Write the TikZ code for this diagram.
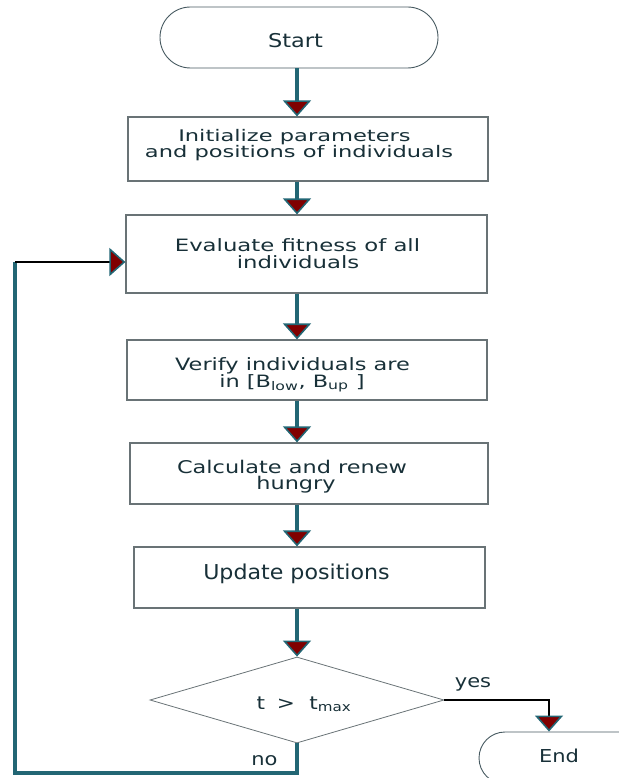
\documentclass[tikz,border=0pt]{standalone}
\usepackage{fontspec}
\usepackage{graphicx}
\setmainfont{DejaVu Sans}
\usetikzlibrary{arrows.meta,shapes.geometric,shapes.misc}
\definecolor{tealc}{RGB}{34,102,116}
\definecolor{redc}{RGB}{128,0,0}
\definecolor{txtc}{RGB}{24,48,56}
\definecolor{boxc}{RGB}{105,115,118}
\newcommand{\hs}[2]{\scalebox{#1}[1]{#2}}
\begin{document}
\begin{tikzpicture}[x=1bp,y=-1bp,
  boxst/.style={draw=boxc,line width=1.2bp,rectangle,inner sep=0pt},
  termst/.style={draw=txtc!80,line width=0.9bp,rounded rectangle,inner sep=0pt},
  lbl/.style={anchor=base,inner sep=0pt,text=txtc,font=\fontsize{#1bp}{#1bp}\selectfont},
  tip/.style={-{Triangle[width=28bp,length=16bp,line width=1.6bp,color=tealc,fill=redc]}},
  conn/.style={draw=tealc,line width=4bp,tip},
  thinconn/.style={draw=black,line width=1.2bp,tip},
  loopline/.style={draw=tealc,line width=4bp}]
\path[use as bounding box] (0,0) rectangle (619,778);
\clip (0,0) rectangle (619,778);
% shapes
\node[termst,minimum width=278bp,minimum height=61bp] (start) at (299,37.5) {};
\node[boxst,minimum width=360bp,minimum height=64bp] (b1) at (308,149) {};
\node[boxst,minimum width=361bp,minimum height=78bp] (b2) at (306.5,254) {};
\node[boxst,minimum width=360bp,minimum height=60bp] (b3) at (307,370) {};
\node[boxst,minimum width=358bp,minimum height=61bp] (b4) at (309,473.5) {};
\node[boxst,minimum width=351bp,minimum height=61bp] (b5) at (309.5,577.5) {};
\node[draw=boxc,line width=0.8bp,diamond,inner sep=0pt,minimum width=294bp,minimum height=86bp] (dec) at (297,700) {};
\node[termst,minimum width=170bp,minimum height=52bp] (stop) at (564,758) {};
% texts
\node[lbl=19] (tstart) at (295.5,47.7) {\hs{1.18}{Start}};
\node[lbl=16] (t1a) at (294.5,141.7) {\hs{1.41}{Initialize parameters}};
\node[lbl=16] (t1b) at (299,157.7) {\hs{1.41}{and positions of individuals}};
\node[lbl=17] (t2a) at (297.5,251.7) {\hs{1.34}{Evaluate fitness of all}};
\node[lbl=17] (t2b) at (298,268) {\hs{1.34}{individuals}};
\node[lbl=17] (t3a) at (292.5,370.7) {\hs{1.32}{Verify individuals are}};
\node[lbl=17] (t3b) at (292,387) {\hs{1.32}{in [B\textsubscript{low}, B\textsubscript{up} ]}};
\node[lbl=17.5] (t4a) at (292,473.3) {\hs{1.28}{Calculate and renew}};
\node[lbl=17.5] (t4b) at (296,489.5) {\hs{1.28}{hungry}};
\node[lbl=20.5] (t5) at (296.5,579) {\hs{1.08}{Update positions}};
\node[lbl=18] (tdec) at (304,709) {\hs{1.2}{t\hspace{10bp}>\hspace{12bp}t\textsubscript{max}}};
\node[lbl=17.8] (tyes) at (473,687) {\hs{1.18}{yes}};
\node[lbl=17.8] (tno) at (264.5,765) {\hs{1.18}{no}};
\node[lbl=17.8] (tstop) at (559,762) {\hs{1.18}{End}};
% connectors
\coordinate (axis) at (297,0);
\draw[conn] (axis |- start.south) -- (axis |- b1.north);
\draw[conn] (axis |- b1.south) -- (axis |- b2.north);
\draw[conn] (axis |- b2.south) -- (axis |- b3.north);
\draw[conn] (axis |- b3.south) -- (axis |- b4.north);
\draw[conn] (axis |- b4.south) -- (axis |- b5.north);
\draw[conn] (axis |- b5.south) -- (dec.north);
\coordinate (yescorner) at (549,700);
\draw[thinconn] (dec.east) -- (yescorner) -- (yescorner |- stop.north);
\coordinate (nobottom) at (297,773);
\coordinate (noleft) at (15,773);
\coordinate (notop) at (15,262);
\draw[loopline,line join=miter] (dec.south) -- (nobottom) -- (noleft) -- (notop);
\draw[thinconn] (notop) -- (b2.west |- notop);
\end{tikzpicture}
\end{document}
